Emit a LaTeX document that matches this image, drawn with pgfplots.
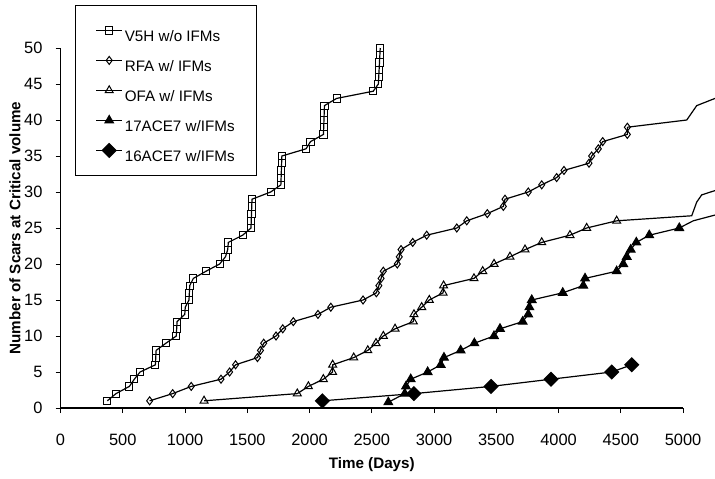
\documentclass[border=0pt]{standalone}
\usepackage{fontspec}
\setmainfont{Liberation Sans}
\usepackage{pgfplots}
\pgfplotsset{compat=1.18}

% cumulative scars at critical volume
\pgfplotstableread{
d v
376 1
446 2
553 3
593 4
639 5
762 6
765 7
768 8
847 9
930 10
933 11
936 12
998 13
1002 14
1032 15
1035 16
1038 17
1067 18
1169 19
1278 20
1325 21
1343 22
1348 23
1463 24
1530 25
1532 26
1534 27
1536 28
1538 29
1688 30
1770 31
1772 32
1774 33
1776 34
1778 35
1972 36
2008 37
2112 38
2114 39
2116 40
2118 41
2120 42
2218 43
2512 44
2553 45
2556 46
2559 47
2562 48
2565 49
2568 50
}\vfh

\pgfplotstableread{
d v
716 1
901 2
1050 3
1289 4
1358 5
1406 6
1582 7
1606 8
1632 9
1731 10
1785 11
1870 12
2068 13
2171 14
2430 15
2537 16
2557 17
2575 18
2593 19
2705 20
2721 21
2735 22
2829 23
2941 24
3183 25
3263 26
3428 27
3557 28
3570 29
3757 30
3865 31
3985 32
4044 33
4245 34
4266 35
4320 36
4355 37
4553 38
4553 39
}\rfa

\pgfplotstableread{
d v
1153 1
1902 2
1991 3
2111 4
2185 5
2186 6
2355 7
2468 8
2534 9
2593 10
2687 11
2834 12
2839 13
2901 14
2962 15
3073 16
3077 17
3321 18
3391 19
3482 20
3610 21
3731 22
3865 23
4092 24
4226 25
4467 26
}\ofa

\pgfplotstableread{
d v
2633 0.8
2765 2
2775 3
2813 4
2949 5
3054 6
3080 7
3214 8
3324 9
3482 10
3530 11
3712 12
3757 13
3766 14
3785 15
4034 16
4199 17
4213 18
4467 19
4520 20
4548 21
4580 22
4625 23
4729 24
4970 25
}\aceA

\pgfplotstableread{
d v
2103 1
2839 2
3458 3
3940 4
4427 5
4588 6
}\aceB

\begin{document}
\begin{tikzpicture}
\begin{axis}[
  scale only axis, width=311.25pt, height=180pt,
  xmin=0, xmax=5000, ymin=0, ymax=50,
  clip=false,
  axis lines*=left,
  axis line style={black, line width=0.6pt},
  xtick={0,500,...,5000}, ytick={0,5,...,50},
  tick align=outside, major tick length=2.5pt,
  tick style={black, line width=0.5pt},
  tick label style={font=\fontsize{8.2}{9}\selectfont},
  xticklabel style={yshift=-7pt},
  yticklabel style={xshift=-3pt},
  /pgf/number format/assume math mode=true,
  /pgf/number format/1000 sep={},
  xlabel={\bfseries Time (Days)},
  ylabel={\bfseries Number of Scars at Critical volume},
  label style={font=\fontsize{7.6}{9}\selectfont},
  xlabel style={at={(axis description cs:0.5,-0.158)}, anchor=center},
  ylabel style={at={(axis description cs:-0.073,0.5)}, anchor=center, rotate=0},
  every axis plot/.append style={black, line width=0.6pt, mark options={solid, line width=0.5pt}},
  legend cell align=left,
  legend image code/.code={\draw[mark repeat=2, mark phase=2, #1] plot coordinates {(0pt,0pt) (6.5pt,0pt) (13pt,0pt)};},
  legend style={at={(axis description cs:0.0233,1.12)}, anchor=north west,
    draw=black, line width=0.6pt, inner xsep=10pt, inner ysep=5.5pt,
    font=\fontsize{7.6}{9}\selectfont, row sep=1pt,
    nodes={inner xsep=1pt, inner ysep=0pt, text height=12.5pt, text depth=1.5pt}},
]
\addplot[mark=square, mark size=1.8pt] table[x=d, y=v] {\vfh};
\addlegendentry{V5H w/o IFMs}
\addplot[mark=diamond, mark size=2pt] table[x=d, y=v] {\rfa};
\addlegendentry{RFA w/ IFMs}
\addplot[mark=triangle, mark size=2.3pt] table[x=d, y=v] {\ofa};
\addlegendentry{OFA w/ IFMs}
\addplot[mark=triangle*, mark size=2.5pt] table[x=d, y=v] {\aceA};
\addlegendentry{17ACE7 w/IFMs}
\addplot[mark=square*, mark size=2.4pt, mark options={rotate=45}] table[x=d, y=v] {\aceB};
\addlegendentry{16ACE7 w/IFMs}

% lines run on past the last marker, beyond 5000 days
\addplot[forget plot, no marks] coordinates {(4553,39) (5030,40) (5110,42) (5257,43)};
\addplot[forget plot, no marks] coordinates {(4467,26) (5070,26.7) (5110,28.6) (5150,29.6) (5257,30.2)};
\addplot[forget plot, no marks] coordinates {(4970,25) (5082,26) (5257,26.8)};

\coordinate (bbsw) at (axis cs:-486,-9.86);
\coordinate (bbne) at (axis cs:5257,56.67);
\end{axis}
\pgfresetboundingbox
\path[use as bounding box] (bbsw) rectangle (bbne);
\end{tikzpicture}
\end{document}
